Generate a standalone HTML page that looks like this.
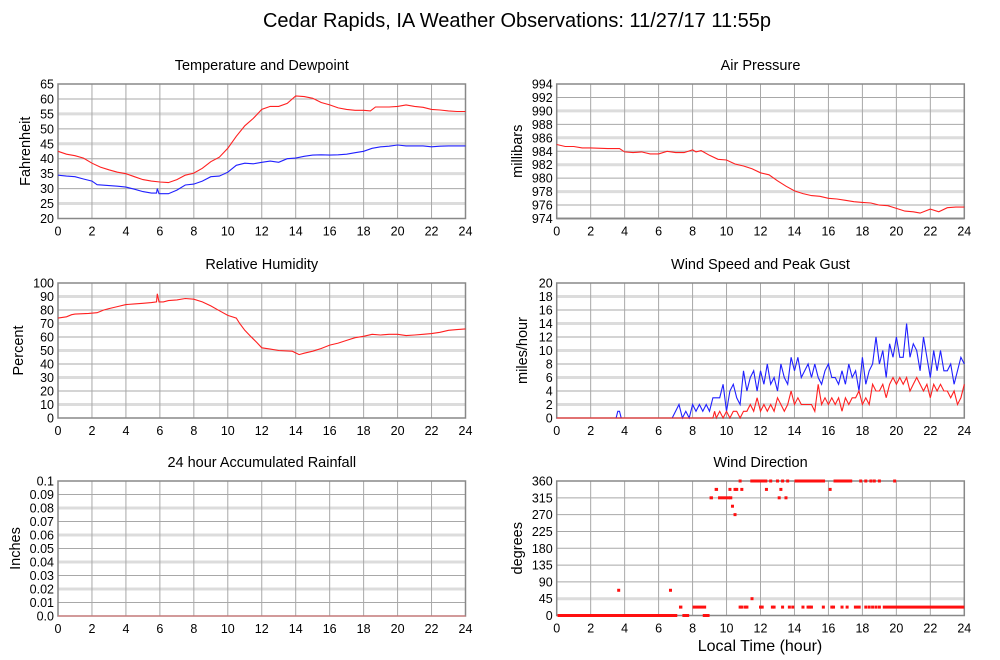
<!DOCTYPE html>
<html><head><meta charset="utf-8"><style>
body{margin:0;background:#fff}
svg{display:block;font-family:"Liberation Sans",Arial,sans-serif}
</style></head><body>
<svg id="chart" width="1000" height="660" viewBox="0 0 1000 660">
<text x="517" y="27" font-size="20" text-anchor="middle">Cedar Rapids, IA Weather Observations: 11/27/17 11:55p</text>
<text x="760" y="651" font-size="16" text-anchor="middle">Local Time (hour)</text>
</svg>
<script>
// ---- data ----
const tempData=[[0,42.5],[0.5,41.5],[1,41],[1.5,40.2],[2,38.5],[2.5,37.2],[3,36.3],[3.5,35.5],[4,35],[4.5,34],[5,33],[5.5,32.5],[6,32.2],[6.5,32],[7,33],[7.5,34.5],[8,35.2],[8.5,36.8],[9,39],[9.5,40.5],[10,43.5],[10.5,47.5],[11,51],[11.5,53.5],[12,56.5],[12.5,57.5],[13,57.5],[13.5,58.5],[14,61],[14.5,60.8],[15,60.2],[15.5,58.8],[16,58],[16.5,57],[17,56.5],[17.5,56.2],[18,56.2],[18.4,56],[18.7,57.3],[19.5,57.3],[20,57.5],[20.5,58],[21,57.5],[21.5,57.2],[22,56.5],[22.5,56.3],[23,56],[23.5,55.8],[24,55.8]];
const dewData=[[0,34.5],[0.5,34.2],[1,34],[1.5,33.2],[2,32.5],[2.3,31.3],[3,31],[3.5,30.8],[4,30.5],[4.5,29.8],[5,29],[5.5,28.5],[5.8,28.5],[5.85,30],[5.95,28.3],[6.5,28.3],[7,29.5],[7.5,31.2],[8,31.5],[8.5,32.5],[9,34],[9.5,34.2],[10,35.5],[10.5,37.8],[11,38.5],[11.5,38.3],[12,38.8],[12.5,39.2],[13,38.8],[13.5,40],[14,40.2],[14.5,40.8],[15,41.2],[15.5,41.3],[16,41.2],[16.5,41.3],[17,41.5],[17.5,42],[18,42.5],[18.5,43.5],[19,44],[19.5,44.2],[20,44.6],[20.5,44.3],[21,44.3],[21.5,44.3],[22,44],[22.5,44.2],[23,44.3],[23.5,44.3],[24,44.3]];
const pressData=[[0,985],[0.5,984.7],[1,984.7],[1.5,984.5],[2,984.5],[3,984.4],[3.7,984.4],[4,983.9],[4.5,983.8],[5,983.9],[5.5,983.6],[6,983.6],[6.5,984],[7,983.8],[7.5,983.8],[8,984.2],[8.2,983.9],[8.5,984.1],[9,983.4],[9.5,982.8],[10,982.7],[10.5,982.1],[11,981.8],[11.5,981.4],[12,980.8],[12.5,980.5],[13,979.6],[13.5,978.8],[14,978.1],[14.5,977.7],[15,977.4],[15.5,977.3],[16,977],[16.5,976.9],[17,976.7],[17.5,976.5],[18,976.4],[18.5,976.3],[19,976],[19.5,975.9],[20,975.5],[20.5,975.1],[21,975],[21.4,974.8],[22,975.4],[22.5,975],[23,975.6],[23.5,975.7],[24,975.7]];
const rhData=[[0,74],[0.5,75],[0.8,76.5],[1,77],[1.8,77.5],[2.3,78],[2.7,80],[3,81],[3.5,82.5],[4,84],[4.5,84.5],[5,85],[5.5,85.5],[5.8,86],[5.85,92],[5.95,86],[6.2,86],[6.5,87],[7,87.5],[7.5,88.5],[8,88],[8.5,86],[9,83],[9.5,79.5],[10,76],[10.5,74],[10.7,70],[11,65],[11.3,61],[11.7,56],[12,52],[12.5,51],[13,50],[13.8,49.5],[14.2,47],[14.5,48],[15,49.5],[15.5,51.5],[16,54],[16.5,55.5],[17,57.5],[17.5,59.5],[18,60.5],[18.5,62],[19,61.5],[19.5,62],[20,62],[20.5,61],[21,61.5],[21.5,62],[22,62.5],[22.5,63.5],[23,65],[23.5,65.5],[24,66]];
const rainData=[[0,0],[24,0]];
const gustData=[[0,0],[3.5,0],[3.6,1],[3.7,1],[3.8,0],[6.6,0],[6.8,0],[7.0,1],[7.2,2],[7.4,0],[7.6,1],[7.8,0],[8.0,2],[8.2,1],[8.4,2],[8.6,1],[8.8,2],[9.0,1],[9.2,3],[9.4,3],[9.6,3],[9.8,5],[10.0,1],[10.2,4],[10.4,5],[10.6,3],[10.8,2],[11.0,7],[11.2,4],[11.4,6],[11.6,7],[11.8,4],[12.0,7],[12.2,5],[12.4,8],[12.6,5],[12.8,6],[13.0,4],[13.2,8],[13.4,6],[13.6,5],[13.8,9],[14.0,7],[14.2,9],[14.4,6],[14.6,7],[14.8,8],[15.0,6],[15.2,8],[15.4,6],[15.6,5],[15.8,7],[16.0,8],[16.2,6],[16.4,6],[16.6,5],[16.8,7],[17.0,5],[17.2,8],[17.4,6],[17.6,7],[17.8,4],[18.0,9],[18.2,5],[18.4,7],[18.6,8],[18.8,12],[19.0,8],[19.2,10],[19.4,6],[19.6,11],[19.8,9],[20.0,12],[20.2,9],[20.4,9],[20.6,14],[20.8,9],[21.0,11],[21.2,10],[21.4,7],[21.6,12],[21.8,9],[22.0,6],[22.2,10],[22.4,7],[22.6,10],[22.8,7],[23.0,7],[23.2,8],[23.4,5],[23.6,7],[23.8,9],[24.0,8]];
const speedData=[[0,0],[9.2,0],[9.3,1],[9.4,0],[9.6,1],[9.8,0],[10,1],[10.2,0],[10.4,1],[10.6,1],[10.8,0],[11,1],[11.2,1],[11.4,2],[11.6,1],[11.8,3],[12,1],[12.2,2],[12.4,1],[12.6,2],[12.8,1],[13,3],[13.2,2],[13.4,1],[13.6,2],[13.8,4],[14,2],[14.2,3],[14.4,2],[14.6,2],[14.8,2],[15,2],[15.2,1],[15.4,5],[15.6,2],[15.8,3],[16,2],[16.2,3],[16.4,2],[16.6,3],[16.8,1],[17,3],[17.2,2],[17.4,3],[17.6,3],[17.8,4],[18,2],[18.2,3],[18.4,2],[18.6,5],[18.8,4],[19,4],[19.2,5],[19.4,3],[19.6,5],[19.8,6],[20,5],[20.2,6],[20.4,5],[20.6,6],[20.8,4],[21,5],[21.2,6],[21.4,5],[21.6,4],[21.8,5],[22,3],[22.2,5],[22.4,4],[22.6,5],[22.8,4],[23,4],[23.2,3],[23.4,4],[23.6,2],[23.8,3],[24,5]];
const dirRuns=[[0.05,7.1,0],[7.4,7.8,0],[8.6,9.0,0],[7.2,7.4,22.5],[8.0,8.8,22.5],[17.5,17.9,22.5],[19.2,24,22.5],[9.0,9.2,315],[9.5,10.2,315],[9.3,9.5,337.5],[11.4,12.4,360],[14.0,15.8,360],[16.3,17.4,360]];
const dirPoints=[[3.65,67.5],[6.7,67.5],[10.35,292.5],[10.5,270],[10.2,337.5],[10.5,337.5],[10.6,337.5],[10.9,337.5],[10.25,315],[13.1,315],[13.5,315],[12.35,337.5],[13.2,337.5],[16.1,337.5],[11.5,45],[10.8,360],[12.6,360],[13.0,360],[13.3,360],[13.6,360],[17.9,360],[18.2,360],[18.5,360],[18.7,360],[19.0,360],[19.9,360],[12.0,22.5],[12.1,22.5],[12.7,22.5],[12.8,22.5],[13.3,22.5],[13.7,22.5],[13.9,22.5],[14.5,22.5],[14.8,22.5],[14.9,22.5],[15.0,22.5],[15.7,22.5],[16.2,22.5],[16.3,22.5],[16.8,22.5],[17.1,22.5],[10.8,22.5],[10.9,22.5],[11.1,22.5],[11.2,22.5],[18.2,22.5],[18.4,22.5],[18.6,22.5],[18.8,22.5],[19.0,22.5]];
const xTicks=[0,2,4,6,8,10,12,14,16,18,20,22,24];
const tempTicks=[20,25,30,35,40,45,50,55,60,65];
const pressTicks=[974,976,978,980,982,984,986,988,990,992,994];
const rhTicks=[0,10,20,30,40,50,60,70,80,90,100];
const windTicks=[0,2,4,6,8,10,12,14,16,18,20];
const rainTicks=[0,0.01,0.02,0.03,0.04,0.05,0.06,0.07,0.08,0.09,0.1];
const rainLabels=["0.0","0.01","0.02","0.03","0.04","0.05","0.06","0.07","0.08","0.09","0.1"];
const dirTicks=[0,45,90,135,180,225,270,315,360];

const svg=document.getElementById('chart');
const NS='http://www.w3.org/2000/svg';
function mk(tag,attrs,parent){const e=document.createElementNS(NS,tag);for(const k in attrs)e.setAttribute(k,attrs[k]);(parent||svg).appendChild(e);return e;}

function panel(o){
  const g=mk('g',{});
  
  
  const X=t=>o.x0+(t-0)/24*(o.x1-o.x0);
  const Y=v=>o.y1-(v-o.min)/(o.max-o.min)*(o.y1-o.y0);
  o.ticks.forEach((v,i)=>{
    const y=Y(v);
    const light=o.light(v,i);
    const ln=mk('line',{x1:o.x0,x2:o.x1,y1:y,y2:y,stroke:light?'#dcdcdc':'#a8a8a8','stroke-width':light?3:1},g);
    
    
    const t=mk('text',{x:o.x0-4,y:y+4.5,'font-size':12.5,'text-anchor':'end'},g);
    t.textContent=o.labels?o.labels[i]:String(v);
    
    
  });
  xTicks.forEach(v=>{
    const x=X(v);
    const ln=mk('line',{x1:x,x2:x,y1:o.y0,y2:o.y1,stroke:'#a8a8a8','stroke-width':1},g);
    
    
    const t=mk('text',{x:x,y:o.y1+17,'font-size':12.5,'text-anchor':'middle'},g);
    t.textContent=String(v);
    
    
  });
  const fr=mk('rect',{x:o.x0,y:o.y0,width:o.x1-o.x0,height:o.y1-o.y0,fill:'none',stroke:'#888','stroke-width':1.5},g);
  
  
  const ti=mk('text',{x:(o.x0+o.x1)/2,y:o.y0-14,'font-size':14.5,'text-anchor':'middle'},g);
  ti.textContent=o.title;
  
  
  const cy=(o.y0+o.y1)/2;
  const yt=mk('text',{x:0,y:0,'font-size':14.5,'text-anchor':'middle',transform:`translate(${o.ytx},${cy}) rotate(-90)`},g);
  yt.textContent=o.ytitle;
  
  
  (o.series||[]).forEach(s=>{
    const p=mk('polyline',{points:s.data.map(d=>X(d[0]).toFixed(1)+','+Y(d[1]).toFixed(1)).join(' '),fill:'none',stroke:s.color,'stroke-width':1.1},g);
    
    
  });
  return {g,X,Y};
}

const LX0=58,LX1=465.5,RX0=556.7,RX1=964.3;
panel({name:'temperature-panel',x0:LX0,x1:LX1,y0:84,y1:218.5,min:20,max:65,ticks:tempTicks,light:v=>v%10===5&&v!==65,title:'Temperature and Dewpoint',ytitle:'Fahrenheit',ytx:30,
  series:[{data:tempData,color:'#ff2020',name:'temperature-line'},{data:dewData,color:'#2020ff',name:'dewpoint-line'}]});
panel({name:'pressure-panel',x0:RX0,x1:RX1,y0:84,y1:218.5,min:974,max:994,ticks:pressTicks,light:v=>v%4===2&&v!==994||v===974,title:'Air Pressure',ytitle:'millibars',ytx:522,
  series:[{data:pressData,color:'#ff2020',name:'pressure-line'}]});
panel({name:'humidity-panel',x0:LX0,x1:LX1,y0:283,y1:418,min:0,max:100,ticks:rhTicks,light:v=>v%20===10,title:'Relative Humidity',ytitle:'Percent',ytx:23,
  series:[{data:rhData,color:'#ff2020',name:'humidity-line'}]});
panel({name:'wind-speed-panel',x0:RX0,x1:RX1,y0:283,y1:418,min:0,max:20,ticks:windTicks,light:v=>v%4===2,title:'Wind Speed and Peak Gust',ytitle:'miles/hour',ytx:527,
  series:[{data:gustData,color:'#2020ff',name:'gust-line'},{data:speedData,color:'#ff2020',name:'speed-line'}]});
panel({name:'rainfall-panel',x0:LX0,x1:LX1,y0:481,y1:616,min:0,max:0.1,ticks:rainTicks,labels:rainLabels,light:(v,i)=>i%2===0&&i>0&&i<10,title:'24 hour Accumulated Rainfall',ytitle:'Inches',ytx:20,
  series:[{data:rainData,color:'#e07070',name:'rainfall-line'}]});
const dp=panel({name:'wind-direction-panel',x0:RX0,x1:RX1,y0:481,y1:615.5,min:0,max:360,ticks:dirTicks,light:v=>v===45,title:'Wind Direction',ytitle:'degrees',ytx:522,series:[]});
dirRuns.forEach(r=>{
  const x=dp.X(r[0]),w=dp.X(r[1])-x,y=dp.Y(r[2]);
  const e=mk('rect',{x:x,y:y-1.5,width:w,height:3,fill:'#ff1010'},dp.g);
  
  
});
dirPoints.forEach(p=>{
  const e=mk('rect',{x:dp.X(p[0])-1.5,y:dp.Y(p[1])-1.5,width:3,height:3,fill:'#ff1010'},dp.g);
  
  
});
</script>
</body></html>
